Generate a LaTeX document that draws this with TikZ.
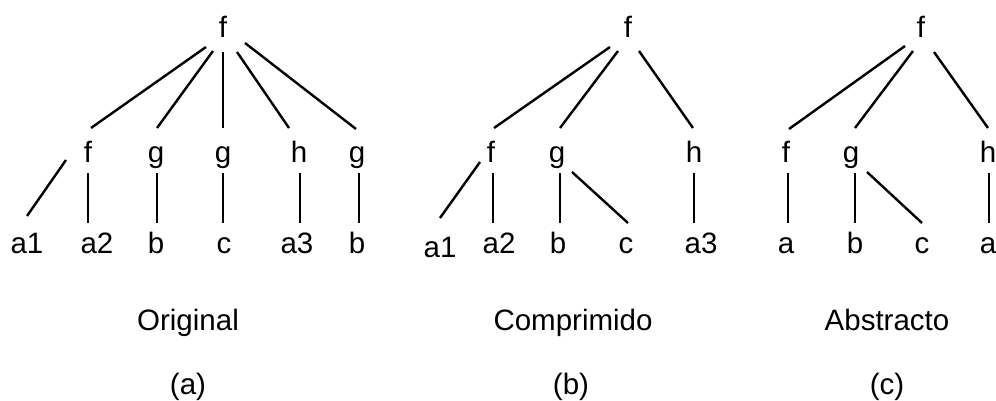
\documentclass[tikz,border=0pt]{standalone}
\usepackage{fontspec}
\setmainfont{Liberation Sans}
% one edge of a tree: from a shifted base point of one node to a shifted base point of another
\newcommand\treeedge[6]{\draw[edge] ([shift={(#2,#3)}]#1.base) -- ([shift={(#5,#6)}]#4.base);}
\begin{document}
\begin{tikzpicture}[x=1pt,y=-1pt,
  lbl/.style={anchor=base,inner sep=0pt,font=\fontsize{29.5}{35}\selectfont},
  edge/.style={line width=2.4pt}]
\useasboundingbox (0,0) rectangle (996,401);

% ---------- tree (a): original ----------
\node[lbl] (ra)  at (223,38)  {f};
\node[lbl] (fa)  at (88,162)  {f};
\node[lbl] (ga1) at (156,162) {g};
\node[lbl] (ga2) at (223,162) {g};
\node[lbl] (ha)  at (299,162) {h};
\node[lbl] (ga3) at (357,162) {g};
\node[lbl] (a1a) at (27,253)  {a1};
\node[lbl] (a2a) at (97,253)  {a2};
\node[lbl] (ba1) at (156,253) {b};
\node[lbl] (ca)  at (224,253) {c};
\node[lbl] (a3a) at (297,253) {a3};
\node[lbl] (ba2) at (357,253) {b};

\treeedge{ra}{-17}{9}{fa}{3}{-34}
\treeedge{ra}{-10}{13}{ga1}{1}{-34}
\treeedge{ra}{0}{14}{ga2}{0}{-34}
\treeedge{ra}{14}{14}{ha}{-10}{-34}
\treeedge{ra}{22}{5}{ga3}{-1}{-33}
\treeedge{fa}{-22}{-2}{a1a}{0}{-37}
\treeedge{fa}{0}{11}{a2a}{-9}{-30}
\treeedge{ga1}{1}{11}{ba1}{1}{-30}
\treeedge{ga2}{0}{11}{ca}{-1}{-30}
\treeedge{ha}{1}{11}{a3a}{3}{-30}
\treeedge{ga3}{2}{11}{ba2}{2}{-30}

% ---------- tree (b): compressed ----------
\node[lbl] (rb)  at (628,38)  {f};
\node[lbl] (fb)  at (491,162) {f};
\node[lbl] (gb)  at (557,162) {g};
\node[lbl] (hb)  at (694,162) {h};
\node[lbl] (a1b) at (440,257) {a1};
\node[lbl] (a2b) at (499,253) {a2};
\node[lbl] (bb)  at (558,253) {b};
\node[lbl] (cb)  at (626,253) {c};
\node[lbl] (a3b) at (701,253) {a3};

\treeedge{rb}{-18}{9}{fb}{3}{-34}
\treeedge{rb}{-10}{13}{gb}{3}{-34}
\treeedge{rb}{11}{13}{hb}{-1}{-34}
\treeedge{fb}{-11}{0}{a1b}{0}{-39}
\treeedge{fb}{2}{11}{a2b}{-6}{-30}
\treeedge{gb}{3}{11}{bb}{2}{-30}
\treeedge{gb}{15}{10}{cb}{2}{-30}
\treeedge{hb}{0}{11}{a3b}{-7}{-30}

% ---------- tree (c): abstract ----------
\node[lbl] (rc)  at (921,38)  {f};
\node[lbl] (fc)  at (786,162) {f};
\node[lbl] (gc)  at (851,162) {g};
\node[lbl] (hc)  at (988,162) {h};
\node[lbl] (ac1) at (786,253) {a};
\node[lbl] (bc)  at (855,253) {b};
\node[lbl] (cc)  at (922,253) {c};
\node[lbl] (ac2) at (988,253) {a};

\treeedge{rc}{-16}{8}{fc}{3}{-33}
\treeedge{rc}{-8}{13}{gc}{4}{-34}
\treeedge{rc}{13}{14}{hc}{0}{-34}
\treeedge{fc}{2}{11}{ac1}{2}{-30}
\treeedge{gc}{4}{11}{bc}{0}{-30}
\treeedge{gc}{16}{10}{cc}{0}{-30}
\treeedge{hc}{1}{11}{ac2}{1}{-30}

% ---------- captions ----------
\node[lbl] (capa) at (188,330) {Original};
\node[lbl] (capb) at (573,330) {Comprimido};
\node[lbl] (capc) at (887,330) {Abstracto};
\node[lbl] (taga) at (188,394) {(a)};
\node[lbl] (tagb) at (571,394) {(b)};
\node[lbl] (tagc) at (887,394) {(c)};
\end{tikzpicture}
\end{document}
